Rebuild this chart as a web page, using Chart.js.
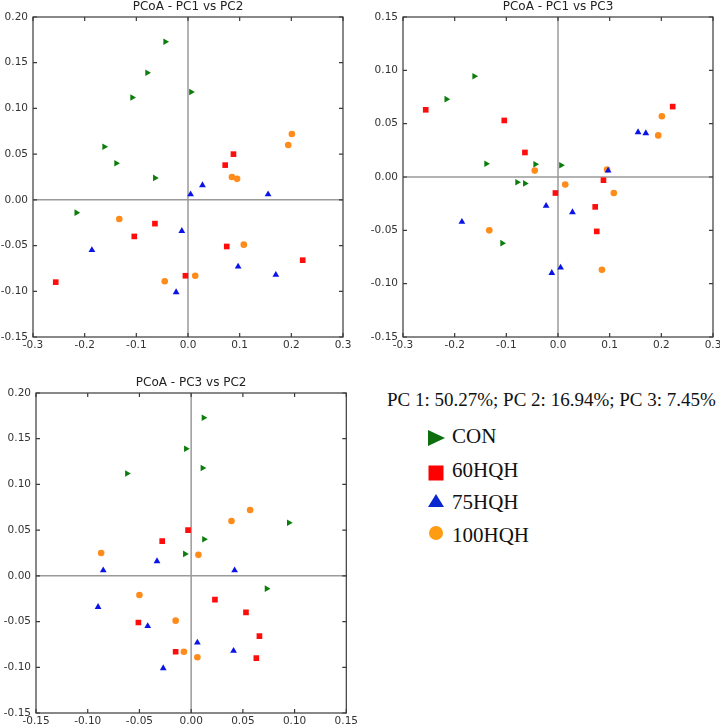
<!DOCTYPE html>
<html><head><meta charset="utf-8">
<script src="https://cdn.jsdelivr.net/npm/chart.js@4/dist/chart.umd.min.js"></script>
<style>
html,body{margin:0;padding:0;background:#fff;overflow:hidden;width:720px;height:726px;position:relative;}
.box{position:absolute;}
canvas{display:block;}
</style></head><body>
<div class="box" style="left:0;top:0;"><canvas id="c1" width="360" height="360"></canvas></div>
<div class="box" style="left:360px;top:0;"><canvas id="c2" width="370" height="360"></canvas></div>
<div class="box" style="left:0;top:376px;"><canvas id="c3" width="360" height="360"></canvas></div>
<svg class="box" style="left:360px;top:360px;" width="360" height="250" xmlns="http://www.w3.org/2000/svg">
  <g id="legend"></g>
</svg>
<script>
// ---- data (per sample coordinates on principal coordinates) ----
const groups = ['CON', '60HQH', '75HQH', '100HQH'];
const conPC1 = [-0.044, -0.079, -0.108, 0.006, -0.162, -0.139, -0.064, -0.216];
const conPC2 = [0.173, 0.139, 0.112, 0.118, 0.058, 0.040, 0.024, -0.014];
const conPC3 = [0.012, -0.005, -0.062, 0.011, 0.0945, 0.0125, -0.006, 0.073];
const q60PC1 = [0.088, 0.072, -0.064, -0.104, 0.075, 0.222, -0.005, -0.256];
const q60PC2 = [0.050, 0.038, -0.026, -0.040, -0.051, -0.066, -0.083, -0.090];
const q60PC3 = [-0.003, -0.028, 0.023, 0.053, -0.051, 0.066, -0.015, 0.063];
const q75PC1 = [0.028, 0.005, 0.155, -0.012, -0.186, 0.097, 0.170, -0.023];
const q75PC2 = [0.016, 0.006, 0.006, -0.034, -0.055, -0.073, -0.082, -0.101];
const q75PC3 = [-0.033, -0.085, 0.042, -0.090, -0.042, 0.006, 0.041, -0.027];
const q100PC1 = [0.201, 0.194, 0.085, 0.095, -0.133, 0.108, 0.014, -0.045];
const q100PC2 = [0.072, 0.060, 0.025, 0.023, -0.021, -0.049, -0.083, -0.089];
const q100PC3 = [0.057, 0.039, -0.087, 0.007, -0.050, -0.015, -0.007, 0.006];

// ---- tick values ----
const pc1Ticks = [-0.3, -0.2, -0.1, 0.0, 0.1, 0.2, 0.3];
const pc2Ticks = [-0.15, -0.10, -0.05, 0.00, 0.05, 0.10, 0.15, 0.20];
const pc3TicksY = [-0.15, -0.10, -0.05, 0.00, 0.05, 0.10, 0.15];
const pc3TicksX = [-0.15, -0.10, -0.05, 0.00, 0.05, 0.10, 0.15];

const titles = ['PCoA - PC1 vs PC2', 'PCoA - PC1 vs PC3', 'PCoA - PC3 vs PC2'];
const varianceText = 'PC 1: 50.27%; PC 2: 16.94%; PC 3: 7.45%';

// ---- styles ----
const colors = ['#0b7d0b', '#ff0d0d', '#0a14e6', '#ff8c1a'];
const styles = [
  {pointStyle: 'triangle', radius: 3.8, rotation: 90},
  {pointStyle: 'rect', radius: 4.0, rotation: 0},
  {pointStyle: 'triangle', radius: 3.9, rotation: 0},
  {pointStyle: 'circle', radius: 3.3, rotation: 0}
];
const PC = {
  1: [conPC1, q60PC1, q75PC1, q100PC1],
  2: [conPC2, q60PC2, q75PC2, q100PC2],
  3: [conPC3, q60PC3, q75PC3, q100PC3]
};

const frame = {
  id: 'frame',
  beforeDatasetsDraw(chart) {
    const {ctx, chartArea: a, scales: {x, y}} = chart;
    ctx.save();
    ctx.strokeStyle = '#9a9a9a';
    ctx.lineWidth = 1.5;
    const zx = x.getPixelForValue(0), zy = y.getPixelForValue(0);
    ctx.beginPath();
    ctx.moveTo(zx, a.top); ctx.lineTo(zx, a.bottom);
    ctx.moveTo(a.left, zy); ctx.lineTo(a.right, zy);
    ctx.stroke();
    ctx.strokeStyle = '#3a3a3a';
    ctx.lineWidth = 1.2;
    ctx.strokeRect(a.left, a.top, a.right - a.left, a.bottom - a.top);
    const L = 4;
    ctx.beginPath();
    x.ticks.forEach(t => {
      const px = x.getPixelForValue(t.value);
      ctx.moveTo(px, a.top); ctx.lineTo(px, a.top + L);
      ctx.moveTo(px, a.bottom); ctx.lineTo(px, a.bottom - L);
    });
    y.ticks.forEach(t => {
      const py = y.getPixelForValue(t.value);
      ctx.moveTo(a.left, py); ctx.lineTo(a.left + L, py);
      ctx.moveTo(a.right, py); ctx.lineTo(a.right - L, py);
    });
    ctx.stroke();
    ctx.restore();
  }
};

function makeChart(id, title, xi, yi, xTicks, yTicks, xDec, yDec, yWidth, padRight) {
  const datasets = groups.map((g, k) => ({
    label: g,
    data: PC[xi][k].map((v, i) => ({x: v, y: PC[yi][k][i]})),
    backgroundColor: colors[k],
    borderColor: colors[k],
    borderWidth: 0,
    pointStyle: styles[k].pointStyle,
    pointRadius: styles[k].radius,
    pointRotation: styles[k].rotation,
    pointHoverRadius: styles[k].radius
  }));
  const tickFont = {family: 'DejaVu Sans', size: 10.5};
  return new Chart(document.getElementById(id), {
    type: 'scatter',
    data: {datasets},
    plugins: [frame],
    options: {
      responsive: false,
      animation: false,
      layout: {padding: {left: 0, top: 0, right: padRight, bottom: 0}},
      plugins: {
        legend: {display: false},
        tooltip: {enabled: false},
        title: {
          display: true, text: title, fullSize: false,
          font: {family: 'DejaVu Sans', size: 12, weight: 'normal', lineHeight: 1.2},
          color: '#222', padding: {top: 0, bottom: 2.6}
        }
      },
      scales: {
        x: {
          type: 'linear', min: xTicks[0], max: xTicks[xTicks.length - 1],
          afterBuildTicks: s => { s.ticks = xTicks.map(v => ({value: v})); },
          afterFit: s => { s.height = 23; },
          grid: {display: false, drawTicks: false}, border: {display: false},
          ticks: {font: tickFont, color: '#333', padding: 2, maxRotation: 0, autoSkip: false,
                  callback: v => Number(v).toFixed(xDec)}
        },
        y: {
          type: 'linear', min: yTicks[0], max: yTicks[yTicks.length - 1],
          afterBuildTicks: s => { s.ticks = yTicks.map(v => ({value: v})); },
          afterFit: s => { s.width = yWidth; },
          grid: {display: false, drawTicks: false}, border: {display: false},
          ticks: {font: tickFont, color: '#333', padding: 5, autoSkip: false,
                  callback: v => Number(v).toFixed(yDec)}
        }
      }
    }
  });
}

makeChart('c1', titles[0], 1, 2, pc1Ticks, pc2Ticks, 1, 2, 33, 17);
makeChart('c2', titles[1], 1, 3, pc1Ticks, pc3TicksY, 1, 2, 43, 17);
makeChart('c3', titles[2], 3, 2, pc3TicksX, pc2Ticks, 2, 2, 36, 13);

// ---- legend (SVG text + marker shapes) ----
const svgNS = 'http://www.w3.org/2000/svg';
const lg = document.getElementById('legend');
function el(tag, attrs, text) {
  const e = document.createElementNS(svgNS, tag);
  for (const k in attrs) e.setAttribute(k, attrs[k]);
  if (text) e.textContent = text;
  lg.appendChild(e);
  return e;
}
el('text', {x: 27, y: 46, 'font-family': 'Liberation Serif', 'font-size': 19, fill: '#111'}, varianceText);
const rowY = [78, 113, 141, 173];
const baseY = [83, 117, 149, 182];
rowY.forEach((cy, k) => {
  const cx = 76;
  if (k === 0) el('polygon', {points: `${cx-8},${cy-8} ${cx+9},${cy} ${cx-8},${cy+8}`, fill: '#0d6e0d'});
  if (k === 1) el('rect', {x: cx - 7.5, y: cy - 7.5, width: 15, height: 15, fill: '#ff0000'});
  if (k === 2) el('polygon', {points: `${cx},${cy-7} ${cx+8},${cy+6} ${cx-8},${cy+6}`, fill: '#0a28d0'});
  if (k === 3) el('circle', {cx: cx, cy: cy, r: 7, fill: '#ff9c12'});
  el('text', {x: 92, y: baseY[k], 'font-family': 'Liberation Serif', 'font-size': 21, fill: '#111'}, groups[k]);
});
</script>
</body></html>
